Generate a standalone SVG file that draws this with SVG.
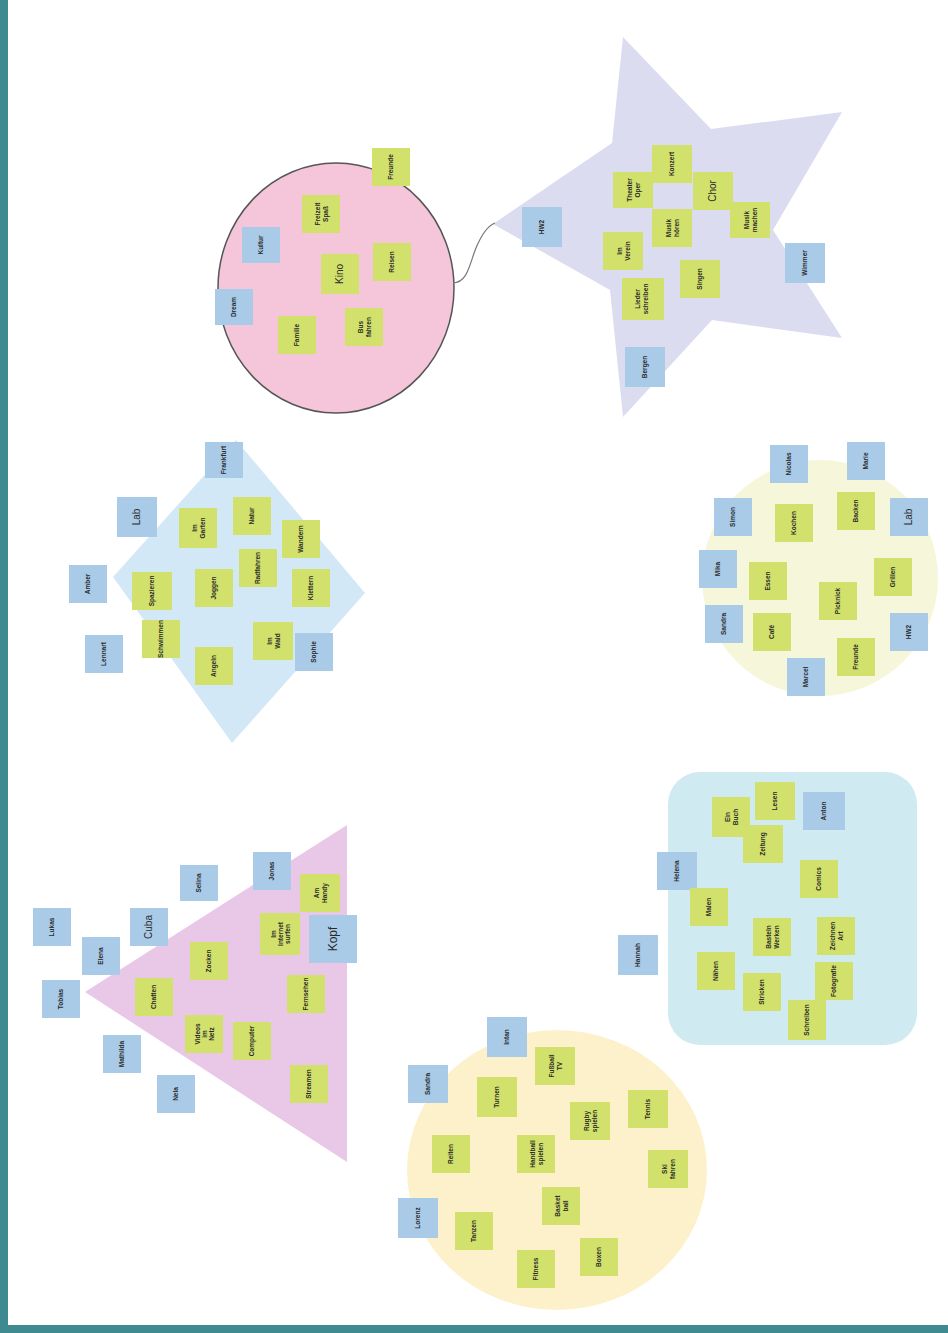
<svg xmlns="http://www.w3.org/2000/svg" width="948" height="1333" viewBox="0 0 948 1333">
<style>
.g{fill:#d2e16b}
.b{fill:#a9cbe8}
.t{font-family:"Liberation Sans",Arial,sans-serif;font-size:6.5px;font-weight:bold;fill:#2a2a2a;text-anchor:middle}
.tl{font-family:"Liberation Sans",Arial,sans-serif;font-size:10px;fill:#2a2a2a;text-anchor:middle}
</style>
<rect width="948" height="1333" fill="#ffffff"/>
<rect x="0" y="0" width="8" height="1333" fill="#3f8a90"/>
<rect x="0" y="1325" width="948" height="8" fill="#3f8a90"/>

<g id="shapes">
<ellipse id="pink-circle" cx="336" cy="288" rx="118" ry="125" fill="#f5c5d9" stroke="#555" stroke-width="1.5"/>
<polygon id="star" points="623,37 711,129 842,112 773,230 842,338 712,320 623,417 610,290 493,224 612,143" fill="#dcdcf0"/>
<polygon id="diamond" points="236,440 365,593 232,743 113,577" fill="#d3e8f6"/>
<ellipse id="yellow-circle" cx="820" cy="578" rx="118" ry="118" fill="#f6f6da"/>
<polygon id="triangle" points="347,825 347,1162 85,992" fill="#e9c7e6"/>
<rect id="rounded-rect" x="668" y="772" width="249" height="273" rx="32" fill="#d0eaf2"/>
<ellipse id="peach-circle" cx="557" cy="1170" rx="150" ry="140" fill="#fdf1cc"/>
</g>

<g id="connectors">
<path d="M453,283 C468,283 470,262 476,248 C481,236 487,226 495,223" fill="none" stroke="#777" stroke-width="1.2"/>
</g>

<!-- pink circle notes -->
<g id="p1" transform="translate(391,167)"><rect class="g" x="-19" y="-19" width="38" height="38"/><text class="t" transform="rotate(-90)" y="2">Freunde</text></g>
<g id="p2" transform="translate(321,214)"><rect class="g" x="-19" y="-19" width="38" height="38"/><text class="t" transform="rotate(-90)" y="-1">Freizeit</text><text class="t" transform="rotate(-90)" y="7">Spaß</text></g>
<g id="p3" transform="translate(261,245)"><rect class="b" x="-19" y="-18" width="38" height="36"/><text class="t" transform="rotate(-90)" y="2">Kultur</text></g>
<g id="p4" transform="translate(340,274)"><rect class="g" x="-19" y="-20" width="38" height="40"/><text class="tl" transform="rotate(-90)" y="3">Kino</text></g>
<g id="p5" transform="translate(392,262)"><rect class="g" x="-19" y="-19" width="38" height="38"/><text class="t" transform="rotate(-90)" y="2">Reisen</text></g>
<g id="p6" transform="translate(234,307)"><rect class="b" x="-19" y="-18" width="38" height="36"/><text class="t" transform="rotate(-90)" y="2">Dream</text></g>
<g id="p7" transform="translate(297,335)"><rect class="g" x="-19" y="-19" width="38" height="38"/><text class="t" transform="rotate(-90)" y="2">Familie</text></g>
<g id="p8" transform="translate(364,327)"><rect class="g" x="-19" y="-19" width="38" height="38"/><text class="t" transform="rotate(-90)" y="-1">Bus</text><text class="t" transform="rotate(-90)" y="7">fahren</text></g>

<!-- star notes -->
<g id="s1" transform="translate(672,164)"><rect class="g" x="-20" y="-19" width="40" height="38"/><text class="t" transform="rotate(-90)" y="2">Konzert</text></g>
<g id="s2" transform="translate(633,190)"><rect class="g" x="-20" y="-18" width="40" height="36"/><text class="t" transform="rotate(-90)" y="-1">Theater</text><text class="t" transform="rotate(-90)" y="7">Oper</text></g>
<g id="s3" transform="translate(713,191)"><rect class="g" x="-20" y="-19" width="40" height="38"/><text class="tl" transform="rotate(-90)" y="3">Chor</text></g>
<g id="s4" transform="translate(672,228)"><rect class="g" x="-20" y="-19" width="40" height="38"/><text class="t" transform="rotate(-90)" y="-1">Musik</text><text class="t" transform="rotate(-90)" y="7">hören</text></g>
<g id="s5" transform="translate(750,220)"><rect class="g" x="-20" y="-18" width="40" height="36"/><text class="t" transform="rotate(-90)" y="-1">Musik</text><text class="t" transform="rotate(-90)" y="7">machen</text></g>
<g id="s6" transform="translate(623,251)"><rect class="g" x="-20" y="-19" width="40" height="38"/><text class="t" transform="rotate(-90)" y="-1">Im</text><text class="t" transform="rotate(-90)" y="7">Verein</text></g>
<g id="s7" transform="translate(700,279)"><rect class="g" x="-20" y="-19" width="40" height="38"/><text class="t" transform="rotate(-90)" y="2">Singen</text></g>
<g id="s8" transform="translate(643,299)"><rect class="g" x="-21" y="-21" width="42" height="42"/><text class="t" transform="rotate(-90)" y="-3">Lieder</text><text class="t" transform="rotate(-90)" y="5">schreiben</text></g>
<g id="s9" transform="translate(542,227)"><rect class="b" x="-20" y="-20" width="40" height="40"/><text class="t" transform="rotate(-90)" y="2">HW2</text></g>
<g id="s10" transform="translate(805,263)"><rect class="b" x="-20" y="-20" width="40" height="40"/><text class="t" transform="rotate(-90)" y="2">Wimmer</text></g>
<g id="s11" transform="translate(645,367)"><rect class="b" x="-20" y="-20" width="40" height="40"/><text class="t" transform="rotate(-90)" y="2">Bergen</text></g>

<!-- diamond notes -->
<g id="d1" transform="translate(224,460)"><rect class="b" x="-19" y="-18" width="38" height="36"/><text class="t" transform="rotate(-90)" y="2">Frankfurt</text></g>
<g id="d2" transform="translate(137,517)"><rect class="b" x="-20" y="-20" width="40" height="40"/><text class="tl" transform="rotate(-90)" y="3">Lab</text></g>
<g id="d3" transform="translate(198,528)"><rect class="g" x="-19" y="-20" width="38" height="40"/><text class="t" transform="rotate(-90)" y="-1">Im</text><text class="t" transform="rotate(-90)" y="7">Garten</text></g>
<g id="d4" transform="translate(252,516)"><rect class="g" x="-19" y="-19" width="38" height="38"/><text class="t" transform="rotate(-90)" y="2">Natur</text></g>
<g id="d5" transform="translate(301,539)"><rect class="g" x="-19" y="-19" width="38" height="38"/><text class="t" transform="rotate(-90)" y="2">Wandern</text></g>
<g id="d6" transform="translate(258,568)"><rect class="g" x="-19" y="-19" width="38" height="38"/><text class="t" transform="rotate(-90)" y="2">Radfahren</text></g>
<g id="d7" transform="translate(88,584)"><rect class="b" x="-19" y="-19" width="38" height="38"/><text class="t" transform="rotate(-90)" y="2">Amber</text></g>
<g id="d8" transform="translate(152,591)"><rect class="g" x="-20" y="-19" width="40" height="38"/><text class="t" transform="rotate(-90)" y="2">Spazieren</text></g>
<g id="d9" transform="translate(214,588)"><rect class="g" x="-19" y="-19" width="38" height="38"/><text class="t" transform="rotate(-90)" y="2">Joggen</text></g>
<g id="d10" transform="translate(311,588)"><rect class="g" x="-19" y="-19" width="38" height="38"/><text class="t" transform="rotate(-90)" y="2">Klettern</text></g>
<g id="d11" transform="translate(161,639)"><rect class="g" x="-19" y="-19" width="38" height="38"/><text class="t" transform="rotate(-90)" y="2">Schwimmen</text></g>
<g id="d12" transform="translate(104,654)"><rect class="b" x="-19" y="-19" width="38" height="38"/><text class="t" transform="rotate(-90)" y="2">Lennart</text></g>
<g id="d13" transform="translate(273,641)"><rect class="g" x="-20" y="-19" width="40" height="38"/><text class="t" transform="rotate(-90)" y="-1">Im</text><text class="t" transform="rotate(-90)" y="7">Wald</text></g>
<g id="d14" transform="translate(314,652)"><rect class="b" x="-19" y="-19" width="38" height="38"/><text class="t" transform="rotate(-90)" y="2">Sophie</text></g>
<g id="d15" transform="translate(214,666)"><rect class="g" x="-19" y="-19" width="38" height="38"/><text class="t" transform="rotate(-90)" y="2">Angeln</text></g>

<!-- yellow circle notes -->
<g id="y1" transform="translate(789,464)"><rect class="b" x="-19" y="-19" width="38" height="38"/><text class="t" transform="rotate(-90)" y="2">Nicolas</text></g>
<g id="y2" transform="translate(866,461)"><rect class="b" x="-19" y="-19" width="38" height="38"/><text class="t" transform="rotate(-90)" y="2">Marie</text></g>
<g id="y3" transform="translate(733,517)"><rect class="b" x="-19" y="-19" width="38" height="38"/><text class="t" transform="rotate(-90)" y="2">Simon</text></g>
<g id="y4" transform="translate(794,523)"><rect class="g" x="-19" y="-19" width="38" height="38"/><text class="t" transform="rotate(-90)" y="2">Kochen</text></g>
<g id="y5" transform="translate(856,511)"><rect class="g" x="-19" y="-19" width="38" height="38"/><text class="t" transform="rotate(-90)" y="2">Backen</text></g>
<g id="y6" transform="translate(909,517)"><rect class="b" x="-19" y="-19" width="38" height="38"/><text class="tl" transform="rotate(-90)" y="3">Lab</text></g>
<g id="y7" transform="translate(718,569)"><rect class="b" x="-19" y="-19" width="38" height="38"/><text class="t" transform="rotate(-90)" y="2">Mika</text></g>
<g id="y8" transform="translate(768,581)"><rect class="g" x="-19" y="-19" width="38" height="38"/><text class="t" transform="rotate(-90)" y="2">Essen</text></g>
<g id="y9" transform="translate(893,577)"><rect class="g" x="-19" y="-19" width="38" height="38"/><text class="t" transform="rotate(-90)" y="2">Grillen</text></g>
<g id="y10" transform="translate(838,601)"><rect class="g" x="-19" y="-19" width="38" height="38"/><text class="t" transform="rotate(-90)" y="2">Picknick</text></g>
<g id="y11" transform="translate(724,624)"><rect class="b" x="-19" y="-19" width="38" height="38"/><text class="t" transform="rotate(-90)" y="2">Sandra</text></g>
<g id="y12" transform="translate(772,632)"><rect class="g" x="-19" y="-19" width="38" height="38"/><text class="t" transform="rotate(-90)" y="2">Café</text></g>
<g id="y13" transform="translate(909,632)"><rect class="b" x="-19" y="-19" width="38" height="38"/><text class="t" transform="rotate(-90)" y="2">HW2</text></g>
<g id="y14" transform="translate(856,657)"><rect class="g" x="-19" y="-19" width="38" height="38"/><text class="t" transform="rotate(-90)" y="2">Freunde</text></g>
<g id="y15" transform="translate(806,677)"><rect class="b" x="-19" y="-19" width="38" height="38"/><text class="t" transform="rotate(-90)" y="2">Marcel</text></g>

<!-- triangle notes -->
<g id="t1" transform="translate(272,871)"><rect class="b" x="-19" y="-19" width="38" height="38"/><text class="t" transform="rotate(-90)" y="2">Jonas</text></g>
<g id="t2" transform="translate(199,883)"><rect class="b" x="-19" y="-18" width="38" height="36"/><text class="t" transform="rotate(-90)" y="2">Selina</text></g>
<g id="t3" transform="translate(320,893)"><rect class="g" x="-20" y="-19" width="40" height="38"/><text class="t" transform="rotate(-90)" y="-1">Am</text><text class="t" transform="rotate(-90)" y="7">Handy</text></g>
<g id="t4" transform="translate(52,927)"><rect class="b" x="-19" y="-19" width="38" height="38"/><text class="t" transform="rotate(-90)" y="2">Lukas</text></g>
<g id="t5" transform="translate(149,927)"><rect class="b" x="-19" y="-19" width="38" height="38"/><text class="tl" transform="rotate(-90)" y="3">Cuba</text></g>
<g id="t6" transform="translate(280,934)"><rect class="g" x="-20" y="-21" width="40" height="42"/><text class="t" transform="rotate(-90)" y="-4">Im</text><text class="t" transform="rotate(-90)" y="3">Internet</text><text class="t" transform="rotate(-90)" y="10">surfen</text></g>
<g id="t7" transform="translate(333,939)"><rect class="b" x="-24" y="-24" width="48" height="48"/><text class="tl" transform="rotate(-90)" y="4" style="font-size:12px">Kopf</text></g>
<g id="t8" transform="translate(101,956)"><rect class="b" x="-19" y="-19" width="38" height="38"/><text class="t" transform="rotate(-90)" y="2">Elena</text></g>
<g id="t9" transform="translate(209,961)"><rect class="g" x="-19" y="-19" width="38" height="38"/><text class="t" transform="rotate(-90)" y="2">Zocken</text></g>
<g id="t10" transform="translate(61,999)"><rect class="b" x="-19" y="-19" width="38" height="38"/><text class="t" transform="rotate(-90)" y="2">Tobias</text></g>
<g id="t11" transform="translate(154,997)"><rect class="g" x="-19" y="-19" width="38" height="38"/><text class="t" transform="rotate(-90)" y="2">Chatten</text></g>
<g id="t12" transform="translate(306,994)"><rect class="g" x="-19" y="-19" width="38" height="38"/><text class="t" transform="rotate(-90)" y="2">Fernsehen</text></g>
<g id="t13" transform="translate(204,1034)"><rect class="g" x="-19" y="-19" width="38" height="38"/><text class="t" transform="rotate(-90)" y="-4">Videos</text><text class="t" transform="rotate(-90)" y="3">im</text><text class="t" transform="rotate(-90)" y="10">Netz</text></g>
<g id="t14" transform="translate(252,1041)"><rect class="g" x="-19" y="-19" width="38" height="38"/><text class="t" transform="rotate(-90)" y="2">Computer</text></g>
<g id="t15" transform="translate(122,1054)"><rect class="b" x="-19" y="-19" width="38" height="38"/><text class="t" transform="rotate(-90)" y="2">Mathilda</text></g>
<g id="t16" transform="translate(309,1084)"><rect class="g" x="-19" y="-19" width="38" height="38"/><text class="t" transform="rotate(-90)" y="2">Streamen</text></g>
<g id="t17" transform="translate(176,1094)"><rect class="b" x="-19" y="-19" width="38" height="38"/><text class="t" transform="rotate(-90)" y="2">Nela</text></g>

<!-- rounded rect notes -->
<g id="r1" transform="translate(775,801)"><rect class="g" x="-20" y="-19" width="40" height="38"/><text class="t" transform="rotate(-90)" y="2">Lesen</text></g>
<g id="r2" transform="translate(731,817)"><rect class="g" x="-19" y="-20" width="38" height="40"/><text class="t" transform="rotate(-90)" y="-1">Ein</text><text class="t" transform="rotate(-90)" y="7">Buch</text></g>
<g id="r3" transform="translate(824,811)"><rect class="b" x="-21" y="-19" width="42" height="38"/><text class="t" transform="rotate(-90)" y="2">Anton</text></g>
<g id="r4" transform="translate(763,844)"><rect class="g" x="-20" y="-19" width="40" height="38"/><text class="t" transform="rotate(-90)" y="2">Zeitung</text></g>
<g id="r5" transform="translate(677,871)"><rect class="b" x="-20" y="-19" width="40" height="38"/><text class="t" transform="rotate(-90)" y="2">Helena</text></g>
<g id="r6" transform="translate(819,879)"><rect class="g" x="-19" y="-19" width="38" height="38"/><text class="t" transform="rotate(-90)" y="2">Comics</text></g>
<g id="r7" transform="translate(709,907)"><rect class="g" x="-19" y="-19" width="38" height="38"/><text class="t" transform="rotate(-90)" y="2">Malen</text></g>
<g id="r8" transform="translate(772,937)"><rect class="g" x="-19" y="-19" width="38" height="38"/><text class="t" transform="rotate(-90)" y="-1">Basteln</text><text class="t" transform="rotate(-90)" y="7">Werken</text></g>
<g id="r9" transform="translate(836,936)"><rect class="g" x="-19" y="-19" width="38" height="38"/><text class="t" transform="rotate(-90)" y="-1">Zeichnen</text><text class="t" transform="rotate(-90)" y="7">Art</text></g>
<g id="r10" transform="translate(638,955)"><rect class="b" x="-20" y="-20" width="40" height="40"/><text class="t" transform="rotate(-90)" y="2">Hannah</text></g>
<g id="r11" transform="translate(716,971)"><rect class="g" x="-19" y="-19" width="38" height="38"/><text class="t" transform="rotate(-90)" y="2">Nähen</text></g>
<g id="r12" transform="translate(834,981)"><rect class="g" x="-19" y="-19" width="38" height="38"/><text class="t" transform="rotate(-90)" y="2">Fotografie</text></g>
<g id="r13" transform="translate(762,992)"><rect class="g" x="-19" y="-19" width="38" height="38"/><text class="t" transform="rotate(-90)" y="2">Stricken</text></g>
<g id="r14" transform="translate(807,1020)"><rect class="g" x="-19" y="-20" width="38" height="40"/><text class="t" transform="rotate(-90)" y="2">Schreiben</text></g>

<!-- peach circle notes -->
<g id="c1" transform="translate(507,1037)"><rect class="b" x="-20" y="-20" width="40" height="40"/><text class="t" transform="rotate(-90)" y="2">Intan</text></g>
<g id="c2" transform="translate(555,1066)"><rect class="g" x="-20" y="-19" width="40" height="38"/><text class="t" transform="rotate(-90)" y="-1">Fußball</text><text class="t" transform="rotate(-90)" y="7">TV</text></g>
<g id="c3" transform="translate(428,1084)"><rect class="b" x="-20" y="-19" width="40" height="38"/><text class="t" transform="rotate(-90)" y="2">Sandra</text></g>
<g id="c4" transform="translate(497,1097)"><rect class="g" x="-20" y="-20" width="40" height="40"/><text class="t" transform="rotate(-90)" y="2">Turnen</text></g>
<g id="c5" transform="translate(590,1121)"><rect class="g" x="-20" y="-19" width="40" height="38"/><text class="t" transform="rotate(-90)" y="-1">Rugby</text><text class="t" transform="rotate(-90)" y="7">spielen</text></g>
<g id="c6" transform="translate(648,1109)"><rect class="g" x="-20" y="-19" width="40" height="38"/><text class="t" transform="rotate(-90)" y="2">Tennis</text></g>
<g id="c7" transform="translate(451,1154)"><rect class="g" x="-19" y="-19" width="38" height="38"/><text class="t" transform="rotate(-90)" y="2">Reiten</text></g>
<g id="c8" transform="translate(536,1154)"><rect class="g" x="-19" y="-19" width="38" height="38"/><text class="t" transform="rotate(-90)" y="-1">Handball</text><text class="t" transform="rotate(-90)" y="7">spielen</text></g>
<g id="c9" transform="translate(668,1169)"><rect class="g" x="-20" y="-19" width="40" height="38"/><text class="t" transform="rotate(-90)" y="-1">Ski</text><text class="t" transform="rotate(-90)" y="7">fahren</text></g>
<g id="c10" transform="translate(561,1206)"><rect class="g" x="-19" y="-19" width="38" height="38"/><text class="t" transform="rotate(-90)" y="-1">Basket</text><text class="t" transform="rotate(-90)" y="7">ball</text></g>
<g id="c11" transform="translate(418,1218)"><rect class="b" x="-20" y="-20" width="40" height="40"/><text class="t" transform="rotate(-90)" y="2">Lorenz</text></g>
<g id="c12" transform="translate(474,1231)"><rect class="g" x="-19" y="-19" width="38" height="38"/><text class="t" transform="rotate(-90)" y="2">Tanzen</text></g>
<g id="c13" transform="translate(599,1257)"><rect class="g" x="-19" y="-19" width="38" height="38"/><text class="t" transform="rotate(-90)" y="2">Boxen</text></g>
<g id="c14" transform="translate(536,1269)"><rect class="g" x="-19" y="-19" width="38" height="38"/><text class="t" transform="rotate(-90)" y="2">Fitness</text></g>
</svg>
